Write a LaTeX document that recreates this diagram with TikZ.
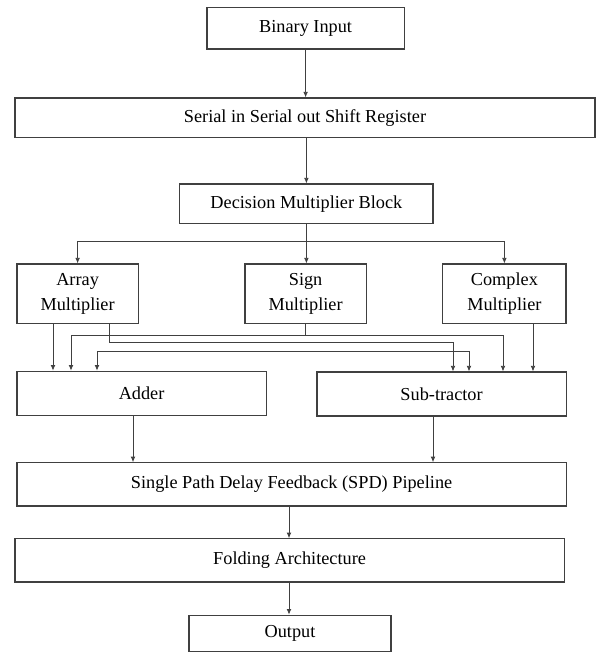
\documentclass[tikz,border=0pt]{standalone}
\usepackage{fontspec}
\setmainfont{Liberation Serif}
\usetikzlibrary{arrows.meta}
\usetikzlibrary{shapes}

\begin{document}
\begin{tikzpicture}[
  blk/.style={rectangle,draw=black!75,line width=0.8pt,inner sep=0pt,align=center,font=\fontsize{13}{18}\selectfont},
  arr/.style={draw=black!75,line width=0.6pt,-{Latex[length=1.4mm,width=1.2mm]}},
  arrboth/.style={draw=black!75,line width=0.6pt,{Latex[length=1.4mm,width=1.2mm]}-{Latex[length=1.4mm,width=1.2mm]}}]
\useasboundingbox (0,0) rectangle (14.925,-16.3);
\node(A) at (7.64,-0.71) [blk,minimum width=4.93cm,minimum height=1.03cm]{Binary Input};
\node(B) at (7.625,-2.94) [blk,minimum width=14.5cm,minimum height=0.98cm]{Serial in Serial out Shift Register};
\node(C) at (7.66,-5.09) [blk,minimum width=6.33cm,minimum height=0.98cm]{Decision Multiplier Block};
\node(D) at (1.94,-7.34) [blk,minimum width=3.03cm,minimum height=1.48cm]{Array\\Multiplier};
\node(E) at (7.64,-7.34) [blk,minimum width=3.03cm,minimum height=1.48cm]{Sign\\Multiplier};
\node(F) at (12.61,-7.34) [blk,minimum width=3.08cm,minimum height=1.48cm]{Complex\\Multiplier};
\node(G) at (3.54,-9.83) [blk,minimum width=6.23cm,minimum height=1.1cm]{Adder};
\node(H) at (11.04,-9.85) [blk,minimum width=6.23cm,minimum height=1.1cm]{Sub-tractor};
\node(I) at (7.29,-12.11) [blk,minimum width=13.73cm,minimum height=1.08cm]{Single Path Delay Feedback (SPD) Pipeline};
\node(J) at (7.24,-14.01) [blk,minimum width=13.73cm,minimum height=1.08cm]{Folding Architecture};
\node(K) at (7.25,-15.83) [blk,minimum width=5.05cm,minimum height=0.9cm]{Output};
\coordinate(S) at (7.66,-6.025);
\draw[arr] (A.south) -- (A.south |- B.north);
\draw[arr] (B.south -| C.north) -- (C.north);
\draw[arr] (C.south) -- (C.south |- E.north);
\draw[arr] (S) -| (D.north);
\draw[arr] (S) -| (F.north);
\draw[arr] (1.325,0 |- D.south) -- (1.325,0 |- G.north);
\draw[arr] (E.south) |- (1.775,-8.375) -- (1.775,0 |- G.north);
\draw[arr] (E.south |- 0,-8.375) -| (12.575,0 |- H.north);
\draw[arr] (2.725,0 |- D.south) |- (11.325,-8.55) -- (11.325,0 |- H.north);
\draw[arrboth] (2.425,0 |- G.north) |- (11.725,-8.775) -- (11.725,0 |- H.north);
\draw[arr] (13.325,0 |- F.south) -- (13.325,0 |- H.north);
\draw[arr] (3.325,0 |- G.south) -- (3.325,0 |- I.north);
\draw[arr] (10.825,0 |- H.south) -- (10.825,0 |- I.north);
\draw[arr] (7.225,0 |- I.south) -- (7.225,0 |- J.north);
\draw[arr] (7.225,0 |- J.south) -- (7.225,0 |- K.north);
\end{tikzpicture}
\end{document}
